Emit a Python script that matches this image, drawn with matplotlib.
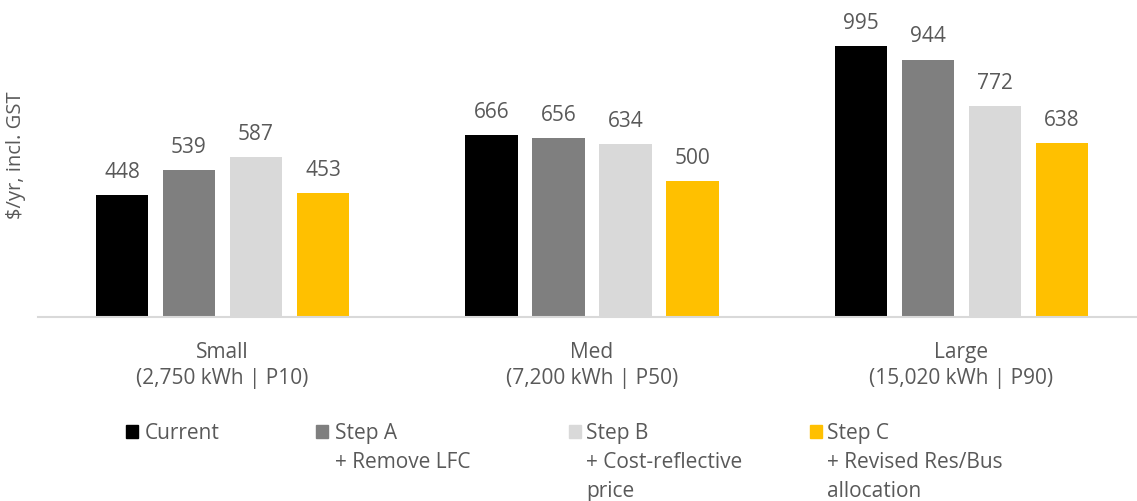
import matplotlib.pyplot as plt
import numpy as np
from matplotlib.patches import Rectangle

plt.rcParams['font.family'] = ['Open Sans', 'DejaVu Sans']

# household size groups
groups = ['Small\n(2,750 kWh | P10)', 'Med\n(7,200 kWh | P50)', 'Large\n(15,020 kWh | P90)']

# annual bill by pricing step ($/yr incl. GST)
series_names = ['Current', 'Step A\n+ Remove LFC', 'Step B\n+ Cost-reflective\nprice',
                'Step C\n+ Revised Res/Bus\nallocation']
current = [448, 666, 995]
step_a = [539, 656, 944]
step_b = [587, 634, 772]
step_c = [453, 500, 638]
values = [current, step_a, step_b, step_c]

colors = ['#000000', '#7F7F7F', '#D9D9D9', '#FFC000']
text_color = '#595959'
fs = 15

W, H = 1137, 502
fig = plt.figure(figsize=(W / 100, H / 100), dpi=100)
ax = fig.add_axes([38 / W, 1 - 318 / H, (W - 38) / W, 300 / H])

x = np.arange(len(groups))
step = 0.1813
width = 0.142
offsets = (np.arange(len(values)) - 1.5) * step

for vals, off, col in zip(values, offsets, colors):
    bars = ax.bar(x + off, vals, width=width, color=col)
    for b, v in zip(bars, vals):
        ax.annotate(f'{v}', (b.get_x() + b.get_width() / 2, v), xytext=(0, 13),
                    textcoords='offset points', ha='center', va='baseline',
                    fontsize=fs, color=text_color)

ax.set_xlim(-0.4993, 2.475)
ax.set_ylim(0, 1100)
ax.set_xticks(x)
ax.set_xticklabels(groups, fontsize=fs, color=text_color, linespacing=1.35)
ax.tick_params(axis='x', length=0, pad=17)
ax.set_yticks([])
for s in ['top', 'right', 'left']:
    ax.spines[s].set_visible(False)
ax.spines['bottom'].set_color('#D9D9D9')
ax.spines['bottom'].set_linewidth(1.5)

ax.set_ylabel('$/yr, incl. GST', fontsize=14.5, color=text_color)
ax.yaxis.set_label_coords(-0.011, 0.543)

# legend drawn by hand so the swatch lines up with the first text line
legend_box_x = [126, 316, 569, 810]
legend_text_x = [145, 335, 586, 827]
line_gap = 29
for name, col, bx, tx in zip(series_names, colors, legend_box_x, legend_text_x):
    fig.add_artist(Rectangle((bx / W, 1 - 439 / H), 12 / W, 13 / H,
                             transform=fig.transFigure, color=col))
    for i, line in enumerate(name.split('\n')):
        fig.text(tx / W, 1 - (439 + i * line_gap) / H, line, va='baseline', ha='left',
                 fontsize=fs, color=text_color)

fig.savefig('out.png', dpi=100)
